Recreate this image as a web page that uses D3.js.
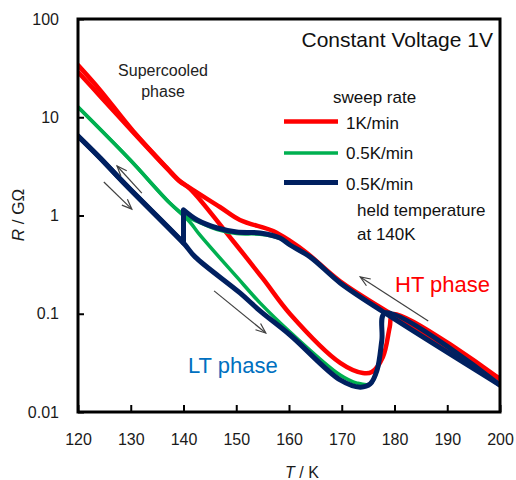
<!DOCTYPE html>
<html>
<head>
<meta charset="utf-8">
<script src="https://cdn.jsdelivr.net/npm/d3@7"></script>
<style>
  html, body { margin: 0; padding: 0; background: #fff; }
  svg { display: block; font-family: "Liberation Sans", Arial, sans-serif; }
</style>
</head>
<body>
<svg id="chart" width="516" height="480"></svg>
<script>
// ---------- data (T in K, R in GOhm) ----------
const xTicks = [120, 130, 140, 150, 160, 170, 180, 190, 200];
const yTicks = [0.01, 0.1, 1, 10, 100];
const yTickLabels = ["0.01", "0.1", "1", "10", "100"];

// 1 K/min, cooling (HT -> supercooled)
const redCoolT = [200, 178.2, 169.7, 163.4, 160.2, 157.0, 150.7, 146.9, 141.2, 139.3, 136.9, 130.4, 124.2, 120];
const redCoolR = [0.0217, 0.109, 0.214, 0.415, 0.55, 0.695, 0.90, 1.22, 1.91, 2.24, 3.04, 7.3, 18.9, 34.0];
// 1 K/min, heating
const redHeatT = [120, 124.2, 130.4, 136.9, 139.3, 141.2, 149.4, 155.1, 160.2, 169.7, 174.0, 175.7, 177.8, 179.1, 179.7, 200];
const redHeatR = [28.9, 16.4, 7.1, 3.0, 2.22, 1.88, 0.55, 0.226, 0.0994, 0.0316, 0.0249, 0.0255, 0.0363, 0.0733, 0.0994, 0.0217];

// 0.5 K/min, cooling
const greenCoolT = [200, 178.2, 169.7, 164.0, 160.2, 158.3, 154.5, 150.1, 146.4, 143.0, 140.5, 137.4, 129.9, 120];
const greenCoolR = [0.0188, 0.102, 0.206, 0.379, 0.50, 0.585, 0.645, 0.655, 0.72, 0.85, 0.98, 1.34, 3.67, 12.7];
// 0.5 K/min, heating
const greenHeatT = [120, 129.9, 137.4, 141.2, 143.1, 150.1, 154.5, 160.2, 169.7, 172.9, 175.4, 176.7, 177.6, 178.2, 200];
const greenHeatR = [12.7, 3.67, 1.34, 0.859, 0.634, 0.237, 0.129, 0.0652, 0.0238, 0.0197, 0.0193, 0.0267, 0.054, 0.102, 0.0188];

// 0.5 K/min held at 140 K, cooling (sharp drop while held at 140 K)
const navyCoolT = [200, 178.2, 169.7, 164.0, 160.2, 158.3, 154.5, 150.1, 146.4, 142.6, 140, 140, 128.9, 124.2, 120];
const navyCoolR = [0.0188, 0.102, 0.206, 0.379, 0.501, 0.590, 0.664, 0.679, 0.746, 0.90, 1.14, 0.525, 2.09, 3.85, 6.45];
// 0.5 K/min held at 140 K, heating
const navyHeatT = [120, 124.2, 128.9, 140, 142.2, 150.7, 154.5, 160.2, 169.7, 173.5, 175.4, 176.7, 177.6, 178.2, 200];
const navyHeatR = [6.45, 3.85, 2.09, 0.525, 0.379, 0.163, 0.107, 0.0608, 0.0212, 0.0179, 0.0193, 0.0267, 0.054, 0.102, 0.0188];

// annotation arrows: [tailT, tailR, headT, headR]
const arrows = [
  [132.1, 1.69, 127.4, 3.19],
  [124.9, 2.19, 130.2, 1.16],
  [145.8, 0.171, 155.6, 0.0637],
  [186.4, 0.0844, 173.5, 0.237]
];

const legendLabels = ["1K/min", "0.5K/min", "0.5K/min"];

// ---------- chart ----------
const svg = d3.select("#chart");
const pLeft = 78, pRight = 500, pTop = 19, pBottom = 412;

const x = d3.scaleLinear().domain([120, 200]).range([pLeft, pRight]);
const y = d3.scaleLog().domain([0.01, 100]).range([pBottom, pTop]);

const colors = { red: "#ff0000", green: "#00b050", navy: "#002060" };
const widths = { red: 4.5, green: 3.5, navy: 5 };

const smooth = d3.line()
  .x(d => x(d[0]))
  .y(d => y(d[1]))
  .curve(d3.curveCatmullRom.alpha(0.5));
const straight = d3.line()
  .x(d => x(d[0]))
  .y(d => y(d[1]));

function zip(T, R) { return T.map((t, i) => [t, R[i]]); }

// path with a sharp vertical step where two consecutive points share the same T
function pathWithStep(pts) {
  let k = -1;
  for (let i = 1; i < pts.length; i++) if (pts[i][0] === pts[i - 1][0]) { k = i - 1; break; }
  if (k < 0) return smooth(pts);
  return smooth(pts.slice(0, k + 1)) + straight(pts.slice(k, k + 2)) + smooth(pts.slice(k + 1));
}

const series = [
  { key: "red", pts: zip(redCoolT, redCoolR) },
  { key: "red", pts: zip(redHeatT, redHeatR) },
  { key: "green", pts: zip(greenCoolT, greenCoolR) },
  { key: "green", pts: zip(greenHeatT, greenHeatR) },
  { key: "navy", pts: zip(navyCoolT, navyCoolR) },
  { key: "navy", pts: zip(navyHeatT, navyHeatR) }
];

const defs = svg.append("defs");
defs.append("clipPath").attr("id", "plotClip")
  .append("rect").attr("x", pLeft).attr("y", pTop)
  .attr("width", pRight - pLeft).attr("height", pBottom - pTop);

const gCurves = svg.append("g").attr("clip-path", "url(#plotClip)");
gCurves.selectAll("path")
  .data(series)
  .join("path")
  .attr("d", d => pathWithStep(d.pts))
  .attr("fill", "none")
  .attr("stroke", d => colors[d.key])
  .attr("stroke-width", d => widths[d.key])
  .attr("stroke-linejoin", "round")
  .attr("stroke-linecap", "round");

// arrows
defs.append("marker")
  .attr("id", "openHead")
  .attr("markerUnits", "userSpaceOnUse")
  .attr("viewBox", "-12 -6 14 12")
  .attr("refX", 0).attr("refY", 0)
  .attr("markerWidth", 14).attr("markerHeight", 12)
  .attr("orient", "auto")
  .append("path")
  .attr("d", "M-10,-4 L0,0 L-10,4")
  .attr("fill", "none")
  .attr("stroke", "#404040")
  .attr("stroke-width", 1.2);

svg.append("g").selectAll("line")
  .data(arrows)
  .join("line")
  .attr("x1", d => x(d[0])).attr("y1", d => y(d[1]))
  .attr("x2", d => x(d[2])).attr("y2", d => y(d[3]))
  .attr("stroke", "#404040")
  .attr("stroke-width", 1.2)
  .attr("marker-end", "url(#openHead)");

// axes
const xAxis = d3.axisBottom(x)
  .tickValues(xTicks)
  .tickFormat(d3.format("d"))
  .tickSizeInner(-7).tickSizeOuter(0)
  .tickPadding(22);
const gx = svg.append("g").attr("transform", `translate(0,${pBottom})`).call(xAxis);

const yAxis = d3.axisLeft(y)
  .tickValues(yTicks)
  .tickFormat((d, i) => yTickLabels[i])
  .tickSizeInner(-6).tickSizeOuter(0)
  .tickPadding(19);
const gy = svg.append("g").attr("transform", `translate(${pLeft},0)`).call(yAxis);

[gx, gy].forEach(g => {
  g.select(".domain").remove();
  g.selectAll(".tick line").attr("stroke", "#000").attr("stroke-width", 2);
  g.selectAll(".tick text")
    .attr("font-family", "Liberation Sans, Arial, sans-serif")
    .attr("font-size", 16)
    .attr("fill", "#1a1a1a");
});

// frame
svg.append("rect")
  .attr("x", pLeft).attr("y", pTop)
  .attr("width", pRight - pLeft).attr("height", pBottom - pTop)
  .attr("fill", "none").attr("stroke", "#000").attr("stroke-width", 3);

// axis titles
const xt = svg.append("text")
  .attr("x", 302).attr("y", 478)
  .attr("text-anchor", "middle")
  .attr("font-size", 16).attr("fill", "#1a1a1a");
xt.append("tspan").attr("font-style", "italic").text("T");
xt.append("tspan").text(" / K");

const yt = svg.append("text")
  .attr("transform", "translate(24,215) rotate(-90)")
  .attr("text-anchor", "middle")
  .attr("font-size", 17).attr("fill", "#1a1a1a");
yt.append("tspan").attr("font-style", "italic").text("R");
yt.append("tspan").text(" / GΩ");

// annotations
svg.append("text")
  .attr("x", 493).attr("y", 47)
  .attr("text-anchor", "end")
  .attr("font-size", 21).attr("fill", "#111")
  .text("Constant Voltage 1V");

svg.append("text").attr("x", 163).attr("y", 76).attr("text-anchor", "middle")
  .attr("font-size", 16).attr("fill", "#222").text("Supercooled");
svg.append("text").attr("x", 163).attr("y", 97).attr("text-anchor", "middle")
  .attr("font-size", 16).attr("fill", "#222").text("phase");

svg.append("text").attr("x", 395).attr("y", 292)
  .attr("font-size", 22).attr("fill", "#ff0000").text("HT phase");
svg.append("text").attr("x", 188).attr("y", 373)
  .attr("font-size", 22).attr("fill", "#0070c0").text("LT phase");

// legend
svg.append("text").attr("x", 333).attr("y", 103)
  .attr("font-size", 17).attr("fill", "#111").text("sweep rate");
const legKeys = ["red", "green", "navy"];
const legY = [121.5, 153, 182.5];
const legTextY = [129, 159, 190];
legKeys.forEach((k, i) => {
  svg.append("line")
    .attr("x1", 284).attr("x2", 338)
    .attr("y1", legY[i]).attr("y2", legY[i])
    .attr("stroke", colors[k]).attr("stroke-width", widths[k]);
  svg.append("text").attr("x", 346).attr("y", legTextY[i])
    .attr("font-size", 17).attr("fill", "#111").text(legendLabels[i]);
});
svg.append("text").attr("x", 357).attr("y", 216)
  .attr("font-size", 17).attr("fill", "#111").text("held temperature");
svg.append("text").attr("x", 357).attr("y", 240)
  .attr("font-size", 17).attr("fill", "#111").text("at 140K");
</script>
</body>
</html>
